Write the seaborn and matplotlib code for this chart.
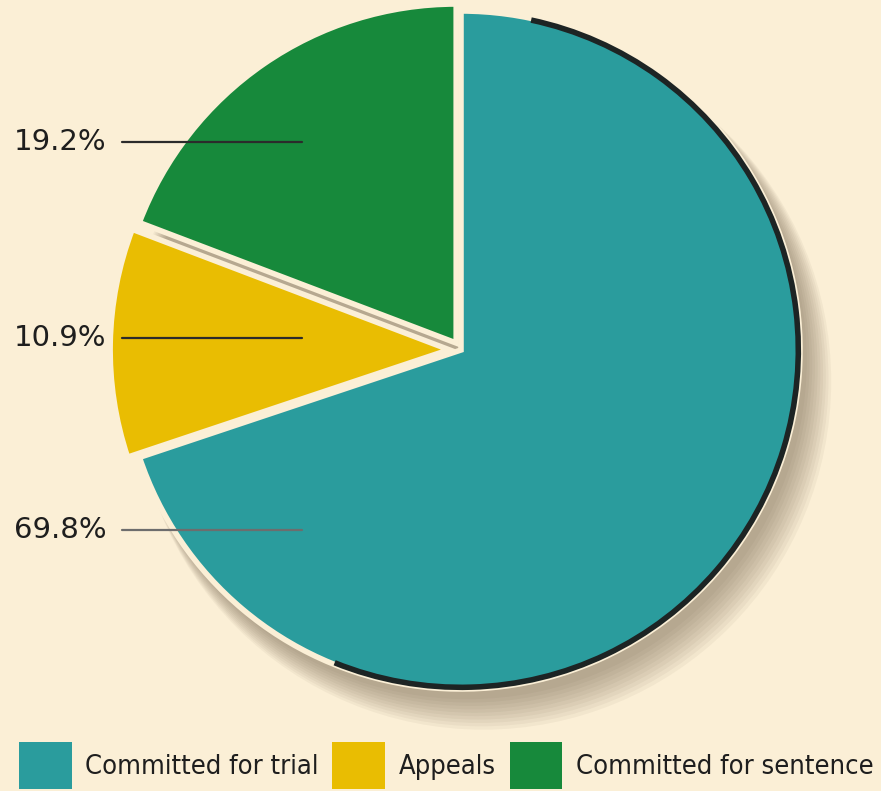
import numpy as np
import matplotlib.pyplot as plt
from matplotlib.patches import Patch, Circle, Arc
import seaborn as sns

# chart data
categories = ['Committed for trial', 'Appeals', 'Committed for sentence']
shares = [69.8, 10.9, 19.2]
pct_labels = ['69.8%', '10.9%', '19.2%']
colors = ['#2a9c9d', '#e9bd02', '#17893b']
explode = [0.0, 0.035, 0.025]

BG = '#fbefd6'

sns.set_style('white')
plt.rcParams['font.family'] = ['DejaVu Sans']

fig = plt.figure(figsize=(8.81, 7.91), dpi=100, facecolor=BG)
ax = fig.add_axes([0, 0, 1, 1])
ax.set_facecolor(BG)

# pixel geometry -> data limits (1 unit = radius)
R_PX = 339
CX, CY = 461, 350
xlim = (-CX / R_PX, (881 - CX) / R_PX)
ylim = (-(791 - CY) / R_PX, CY / R_PX)

# soft drop shadow toward lower right
for k in range(10):
    ax.add_patch(Circle((0.02 + k * 0.005, -0.03 - k * 0.007), 1.0 + k * 0.003,
                        facecolor='#6b5a45', edgecolor='none', alpha=0.06, zorder=0))

wedges, _ = ax.pie(shares, colors=colors, startangle=90, counterclock=False,
                   explode=explode, radius=1.0, center=(0, 0), frame=False,
                   wedgeprops=dict(edgecolor=BG, linewidth=4))
for w in wedges:
    w.set_zorder(2)

# dark rim on the right side of the big slice
t = wedges[0]
ax.add_patch(Arc(t.center, 2 * t.r - 0.01, 2 * t.r - 0.01, theta1=-112, theta2=78,
                 color='#1d2424', linewidth=4, zorder=3))
ax.set_xlim(*xlim)
ax.set_ylim(*ylim)
ax.set_aspect('equal')
ax.axis('off')

# percentage labels on the left with leader lines
label_y = {'19.2%': (CY - 142) / R_PX, '10.9%': (CY - 338) / R_PX, '69.8%': (CY - 530) / R_PX}
line_colors = {'19.2%': '#2b2b2b', '10.9%': '#2b2b2b', '69.8%': '#6d6d6d'}
x_text = (14 - CX) / R_PX
x_start = (122 - CX) / R_PX
x_end = (302 - CX) / R_PX
for lab in ['19.2%', '10.9%', '69.8%']:
    y = label_y[lab]
    ax.text(x_text, y, lab, fontsize=21, color='#1e1e1e', ha='left', va='center', zorder=5)
    ax.plot([x_start, x_end], [y, y], color=line_colors[lab], linewidth=1.6, zorder=5)

handles = [Patch(facecolor=c, edgecolor='none') for c in colors]
leg = fig.legend(handles, categories, loc='lower left', bbox_to_anchor=(-0.006, -0.028),
                 ncol=3, frameon=False, handlelength=1.95, handleheight=2.3,
                 handletextpad=0.5, columnspacing=0.5,
                 prop={'family': ['DejaVu Sans'], 'stretch': 'condensed', 'size': 19.5})
for txt in leg.get_texts():
    txt.set_color('#1e1e1e')

fig.savefig('out.png', dpi=100, facecolor=BG)
